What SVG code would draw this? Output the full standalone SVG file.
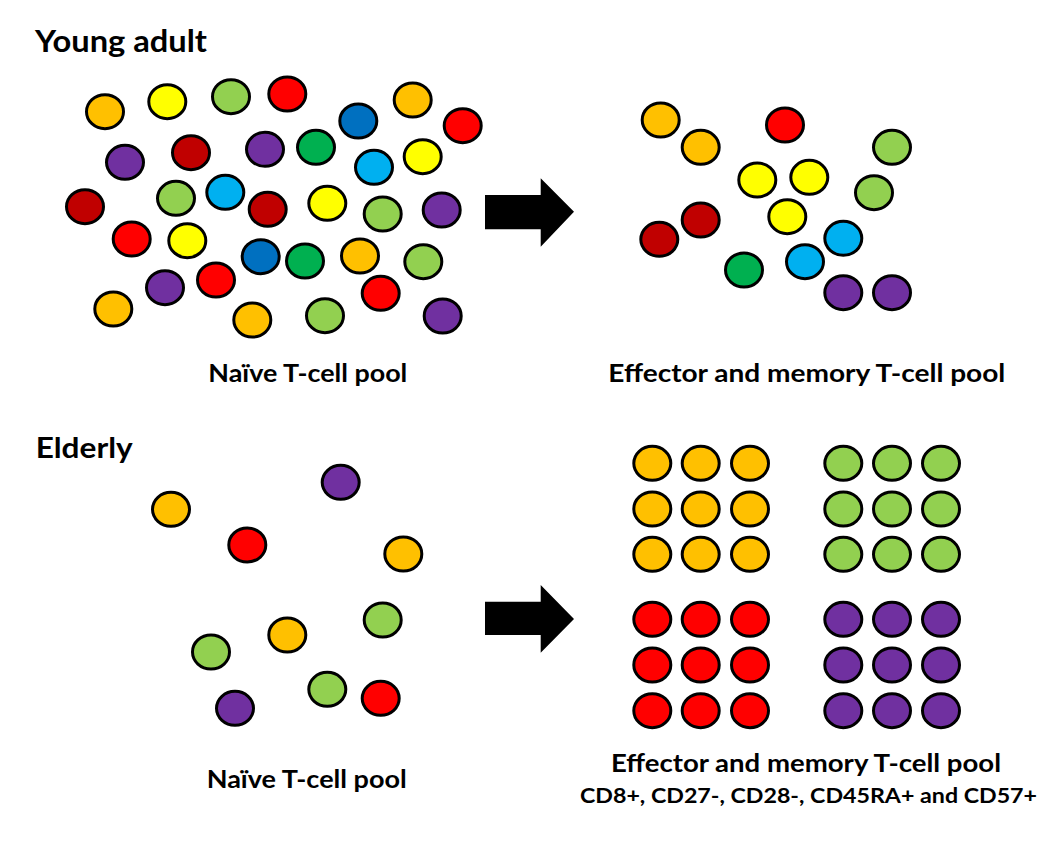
<svg xmlns="http://www.w3.org/2000/svg" width="1053" height="841" viewBox="0 0 1053 841">
<style>
ellipse{stroke:#000;stroke-width:3;}
.o{fill:#FFC000}.y{fill:#FFFF00}.lg{fill:#92D050}.r{fill:#FF0000}.dr{fill:#C00000}.p{fill:#7030A0}.g{fill:#00B050}.sb{fill:#00B0F0}.b{fill:#0070C0}
text{font-family:Lato,"Liberation Sans",sans-serif;font-weight:bold;fill:#000}
</style>
<rect width="1053" height="841" fill="#fff"/>
<defs>
<ellipse id="c" cx="0" cy="0" rx="18.5" ry="17"/>
</defs>
<g id="young-naive-pool">
<ellipse class="o" cx="105" cy="111.7" rx="18.5" ry="17"/>
<ellipse class="y" cx="167.3" cy="101.7" rx="18.5" ry="17"/>
<ellipse class="lg" cx="231" cy="96.7" rx="18.5" ry="17"/>
<ellipse class="r" cx="287.3" cy="94" rx="18.5" ry="17"/>
<ellipse class="b" cx="358.3" cy="121" rx="18.5" ry="17"/>
<ellipse class="o" cx="412.7" cy="100" rx="18.5" ry="17"/>
<ellipse class="r" cx="462.7" cy="125.7" rx="18.5" ry="17"/>
<ellipse class="p" cx="125" cy="162.3" rx="18.5" ry="17"/>
<ellipse class="dr" cx="191" cy="152.7" rx="18.5" ry="17"/>
<ellipse class="p" cx="265" cy="149.3" rx="18.5" ry="17"/>
<ellipse class="g" cx="316" cy="147.3" rx="18.5" ry="17"/>
<ellipse class="sb" cx="374" cy="167.3" rx="18.5" ry="17"/>
<ellipse class="y" cx="422.7" cy="156.7" rx="18.5" ry="17"/>
<ellipse class="dr" cx="85" cy="206.7" rx="18.5" ry="17"/>
<ellipse class="lg" cx="176" cy="198.3" rx="18.5" ry="17"/>
<ellipse class="sb" cx="225.3" cy="192.3" rx="18.5" ry="17"/>
<ellipse class="dr" cx="267.7" cy="209.3" rx="18.5" ry="17"/>
<ellipse class="y" cx="327.3" cy="203.3" rx="18.5" ry="17"/>
<ellipse class="lg" cx="382.7" cy="214" rx="18.5" ry="17"/>
<ellipse class="p" cx="441.7" cy="210" rx="18.5" ry="17"/>
<ellipse class="r" cx="131.7" cy="239" rx="18.5" ry="17"/>
<ellipse class="y" cx="187.3" cy="240.7" rx="18.5" ry="17"/>
<ellipse class="b" cx="260.7" cy="256.7" rx="18.5" ry="17"/>
<ellipse class="g" cx="305" cy="261" rx="18.5" ry="17"/>
<ellipse class="o" cx="360" cy="256" rx="18.5" ry="17"/>
<ellipse class="lg" cx="423.3" cy="261.7" rx="18.5" ry="17"/>
<ellipse class="p" cx="165" cy="287.7" rx="18.5" ry="17"/>
<ellipse class="r" cx="216" cy="280" rx="18.5" ry="17"/>
<ellipse class="o" cx="113.3" cy="309" rx="18.5" ry="17"/>
<ellipse class="o" cx="252.3" cy="320" rx="18.5" ry="17"/>
<ellipse class="lg" cx="325" cy="315.7" rx="18.5" ry="17"/>
<ellipse class="r" cx="380.7" cy="293.3" rx="18.5" ry="17"/>
<ellipse class="p" cx="442.7" cy="316" rx="18.5" ry="17"/>
</g>
<g id="young-effector-pool">
<ellipse class="o" cx="660.7" cy="120" rx="18.5" ry="17"/>
<ellipse class="o" cx="700.7" cy="147.3" rx="18.5" ry="17"/>
<ellipse class="r" cx="785" cy="125" rx="18.5" ry="17"/>
<ellipse class="lg" cx="892" cy="147.3" rx="18.5" ry="17"/>
<ellipse class="y" cx="757.3" cy="180" rx="18.5" ry="17"/>
<ellipse class="y" cx="809.3" cy="177.3" rx="18.5" ry="17"/>
<ellipse class="lg" cx="874" cy="192.7" rx="18.5" ry="17"/>
<ellipse class="dr" cx="700.7" cy="220" rx="18.5" ry="17"/>
<ellipse class="dr" cx="659.3" cy="239.3" rx="18.5" ry="17"/>
<ellipse class="y" cx="787.3" cy="216.7" rx="18.5" ry="17"/>
<ellipse class="sb" cx="843.3" cy="238.3" rx="18.5" ry="17"/>
<ellipse class="sb" cx="805" cy="261.7" rx="18.5" ry="17"/>
<ellipse class="g" cx="744" cy="270" rx="18.5" ry="17"/>
<ellipse class="p" cx="843.3" cy="292.7" rx="18.5" ry="17"/>
<ellipse class="p" cx="892" cy="292.7" rx="18.5" ry="17"/>
</g>
<g id="elderly-naive-pool">
<ellipse class="o" cx="171" cy="509.3" rx="18.5" ry="17"/>
<ellipse class="p" cx="340.7" cy="482.3" rx="18.5" ry="17"/>
<ellipse class="r" cx="247.3" cy="545" rx="18.5" ry="17"/>
<ellipse class="o" cx="403.3" cy="554" rx="18.5" ry="17"/>
<ellipse class="lg" cx="382.7" cy="620" rx="18.5" ry="17"/>
<ellipse class="o" cx="287.3" cy="635" rx="18.5" ry="17"/>
<ellipse class="lg" cx="211" cy="652" rx="18.5" ry="17"/>
<ellipse class="lg" cx="327.3" cy="689.3" rx="18.5" ry="17"/>
<ellipse class="r" cx="380.7" cy="698.3" rx="18.5" ry="17"/>
<ellipse class="p" cx="235" cy="708.3" rx="18.5" ry="17"/>
</g>
<g id="elderly-effector-pool">
<g id="grid-orange" class="o">
<ellipse cx="652.3" cy="463.3" rx="18.5" ry="17"/><ellipse cx="700.7" cy="463.3" rx="18.5" ry="17"/><ellipse cx="750" cy="463.3" rx="18.5" ry="17"/>
<ellipse cx="652.3" cy="509" rx="18.5" ry="17"/><ellipse cx="700.7" cy="509" rx="18.5" ry="17"/><ellipse cx="750" cy="509" rx="18.5" ry="17"/>
<ellipse cx="652.3" cy="554.3" rx="18.5" ry="17"/><ellipse cx="700.7" cy="554.3" rx="18.5" ry="17"/><ellipse cx="750" cy="554.3" rx="18.5" ry="17"/>
</g>
<g id="grid-green" class="lg">
<ellipse cx="843.3" cy="463.3" rx="18.5" ry="17"/><ellipse cx="892" cy="463.3" rx="18.5" ry="17"/><ellipse cx="941" cy="463.3" rx="18.5" ry="17"/>
<ellipse cx="843.3" cy="509" rx="18.5" ry="17"/><ellipse cx="892" cy="509" rx="18.5" ry="17"/><ellipse cx="941" cy="509" rx="18.5" ry="17"/>
<ellipse cx="843.3" cy="554.3" rx="18.5" ry="17"/><ellipse cx="892" cy="554.3" rx="18.5" ry="17"/><ellipse cx="941" cy="554.3" rx="18.5" ry="17"/>
</g>
<g id="grid-red" class="r">
<ellipse cx="652.3" cy="619.3" rx="18.5" ry="17"/><ellipse cx="700.7" cy="619.3" rx="18.5" ry="17"/><ellipse cx="750" cy="619.3" rx="18.5" ry="17"/>
<ellipse cx="652.3" cy="665" rx="18.5" ry="17"/><ellipse cx="700.7" cy="665" rx="18.5" ry="17"/><ellipse cx="750" cy="665" rx="18.5" ry="17"/>
<ellipse cx="652.3" cy="710.7" rx="18.5" ry="17"/><ellipse cx="700.7" cy="710.7" rx="18.5" ry="17"/><ellipse cx="750" cy="710.7" rx="18.5" ry="17"/>
</g>
<g id="grid-purple" class="p">
<ellipse cx="843.3" cy="619.3" rx="18.5" ry="17"/><ellipse cx="892" cy="619.3" rx="18.5" ry="17"/><ellipse cx="941" cy="619.3" rx="18.5" ry="17"/>
<ellipse cx="843.3" cy="665" rx="18.5" ry="17"/><ellipse cx="892" cy="665" rx="18.5" ry="17"/><ellipse cx="941" cy="665" rx="18.5" ry="17"/>
<ellipse cx="843.3" cy="710.7" rx="18.5" ry="17"/><ellipse cx="892" cy="710.7" rx="18.5" ry="17"/><ellipse cx="941" cy="710.7" rx="18.5" ry="17"/>
</g>
</g>
<g id="connectors" fill="#000">
<polygon points="485,195 540.7,195 540.7,178.3 574,211.7 540.7,246.7 540.7,229.3 485,229.3"/>
<polygon points="485,601.7 540.7,601.7 540.7,585 574,619 540.7,652.7 540.7,635 485,635"/>
</g>
<g id="labels">
<text x="35" y="52.3" font-size="30" textLength="172" lengthAdjust="spacingAndGlyphs">Young adult</text>
<text x="208.3" y="381.7" font-size="25" textLength="199" lengthAdjust="spacingAndGlyphs">Naïve T-cell pool</text>
<text x="608.3" y="382.3" font-size="25" textLength="397" lengthAdjust="spacingAndGlyphs">Effector and memory T-cell pool</text>
<text x="35.7" y="458.3" font-size="28" textLength="97" lengthAdjust="spacingAndGlyphs">Elderly</text>
<text x="206.7" y="788.3" font-size="25" textLength="200" lengthAdjust="spacingAndGlyphs">Naïve T-cell pool</text>
<text x="611" y="772.3" font-size="25" textLength="390" lengthAdjust="spacingAndGlyphs">Effector and memory T-cell pool</text>
<text x="580" y="803.3" font-size="21" textLength="457" lengthAdjust="spacingAndGlyphs">CD8+, CD27-, CD28-, CD45RA+ and CD57+</text>
</g>
</svg>
